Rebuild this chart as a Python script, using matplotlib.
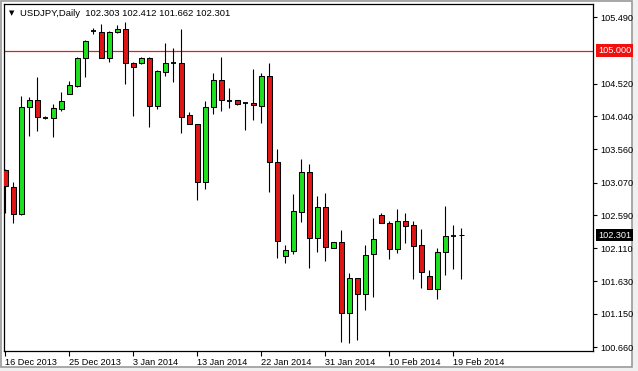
import matplotlib
matplotlib.use("Agg")
import matplotlib.pyplot as plt
import matplotlib.transforms as mtransforms
from matplotlib.patches import Rectangle

# USDJPY daily bars (16 Dec 2013 .. 20 Feb 2014)
opens = [103.255, 103.010, 102.611, 104.181, 104.279, 104.023, 104.011, 104.148,
         104.363, 104.484, 104.890, 105.289, 105.279, 104.890, 105.279, 105.319,
         104.817, 104.825, 104.890, 104.196, 104.694, 104.817, 104.817, 104.055,
         103.924, 103.083, 104.172, 104.568, 104.269, 104.275, 104.231, 104.235,
         104.196, 104.631, 103.367, 102.000, 102.073, 102.636, 103.221, 102.255,
         102.709, 102.109, 102.208, 101.157, 101.670, 101.444, 102.021, 102.600,
         102.483, 102.103, 102.508, 102.450, 102.153, 101.703, 101.509, 102.050,
         102.284, 102.303]
highs = [103.269, 103.083, 104.338, 104.319, 104.612, 104.050, 104.221, 104.396,
         104.555, 104.913, 105.158, 105.330, 105.392, 105.294, 105.373, 105.421,
         104.840, 104.913, 104.913, 104.718, 105.118, 105.040, 105.319, 104.099,
         103.928, 104.269, 104.679, 104.904, 104.451, 104.279, 104.243, 104.733,
         104.675, 104.825, 103.562, 102.154, 102.903, 103.416, 103.338, 102.874,
         102.918, 102.208, 102.381, 101.743, 101.670, 102.157, 102.557, 102.621,
         102.513, 102.684, 102.625, 102.508, 102.391, 101.791, 102.109, 102.732,
         102.454, 102.412]
lows = [102.625, 102.475, 102.600, 103.752, 103.830, 103.997, 103.742, 104.111,
        104.360, 104.474, 104.620, 105.248, 104.887, 104.840, 105.256, 104.518,
        104.045, 104.806, 103.880, 104.152, 104.635, 104.547, 103.801, 103.921,
        102.816, 102.977, 104.070, 104.123, 104.167, 104.213, 103.833, 103.987,
        103.947, 102.937, 101.974, 101.889, 102.025, 102.498, 101.816, 102.059,
        101.927, 102.109, 100.737, 100.722, 100.766, 101.206, 101.400, 102.472,
        101.952, 102.044, 102.191, 101.659, 101.532, 101.506, 101.362, 101.718,
        101.810, 101.662]
closes = [103.020, 102.611, 104.181, 104.279, 104.035, 104.023, 104.155, 104.265,
          104.496, 104.890, 105.150, 105.289, 104.890, 105.270, 105.319, 104.817,
          104.755, 104.890, 104.196, 104.704, 104.817, 104.817, 104.035, 103.924,
          103.083, 104.172, 104.568, 104.275, 104.269, 104.216, 104.231, 104.199,
          104.631, 103.367, 102.220, 102.079, 102.650, 103.221, 102.255, 102.709,
          102.135, 102.208, 101.157, 101.670, 101.435, 102.011, 102.245, 102.475,
          102.103, 102.508, 102.439, 102.147, 101.766, 101.509, 102.055, 102.284,
          102.284, 102.301]

date_labels = ["16 Dec 2013", "25 Dec 2013", "3 Jan 2014", "13 Jan 2014",
               "22 Jan 2014", "31 Jan 2014", "10 Feb 2014", "19 Feb 2014"]
price_ticks = [105.490, 104.520, 104.040, 103.560, 103.070, 102.590,
               102.110, 101.630, 101.150, 100.660]
level = 105.000

bull = '#1fe01f'
bear = '#e01616'
font = 'Liberation Sans'

fig = plt.figure(figsize=(6.38, 3.71), dpi=100, facecolor='#f0f0f0')
# window frame, kept behind the axes
frame = Rectangle((0.5 / 638, 4 / 371), 631 / 638, 366 / 371,
                  transform=fig.transFigure, facecolor='white',
                  edgecolor='#9a9a9a', linewidth=1.2, zorder=-10)
fig.add_artist(frame)

ax = fig.add_axes([4 / 638, 20.3 / 371, 589.3 / 638, 346.4 / 371])
ax.set_facecolor('white')

for i in range(len(opens)):
    o, h, l, c = opens[i], highs[i], lows[i], closes[i]
    ax.vlines(i, l, h, color='black', linewidth=0.8, zorder=2)
    if c == o:
        ax.hlines(c, i - 0.32, i + 0.32, color='black', linewidth=1.3, zorder=3)
    else:
        ax.bar(i, abs(c - o), bottom=min(o, c), width=0.6,
               color=bull if c > o else bear, edgecolor='black',
               linewidth=0.75, zorder=3)

ax.axhline(level, color='#e02020', linewidth=0.9, zorder=1)

ax.set_xlim(-0.16, 73.5)
ax.set_ylim(100.610, 105.680)

ax.set_xticks(range(0, len(opens), 8))
ax.set_xticklabels(date_labels, ha='left', fontsize=6.6, family=font)
ax.set_yticks(price_ticks)
ax.set_yticklabels(['%.3f' % p for p in price_ticks], fontsize=6.6, family=font)
ax.yaxis.tick_right()
ax.tick_params(axis='x', direction='out', length=3.5, width=0.8, pad=1.5)
ax.tick_params(axis='y', direction='out', length=3, width=0.8, pad=2)
for s in ax.spines.values():
    s.set_color('black')
    s.set_linewidth(0.9)

trans = mtransforms.blended_transform_factory(ax.transAxes, ax.transData)
ax.text(1.008, level, '%.3f' % level, transform=trans, ha='left', va='center',
        color='white', fontsize=6.6, family=font,
        bbox=dict(facecolor='#f01010', edgecolor='none', pad=1.3))
ax.text(1.008, closes[-1], '%.3f' % closes[-1], transform=trans, ha='left',
        va='center', color='white', fontsize=6.6, family=font,
        bbox=dict(facecolor='black', edgecolor='none', pad=1.3))

fig.text(9 / 638, 1 - 13 / 371, '\u25bc', fontsize=5, va='center', ha='left')
fig.text(20 / 638, 1 - 13 / 371,
         'USDJPY,Daily  %.3f %.3f %.3f %.3f' % (opens[-1], highs[-1], lows[-1], closes[-1]),
         fontsize=6.8, family=font, va='center', ha='left')

fig.savefig('out.png', dpi=100, facecolor=fig.get_facecolor())
